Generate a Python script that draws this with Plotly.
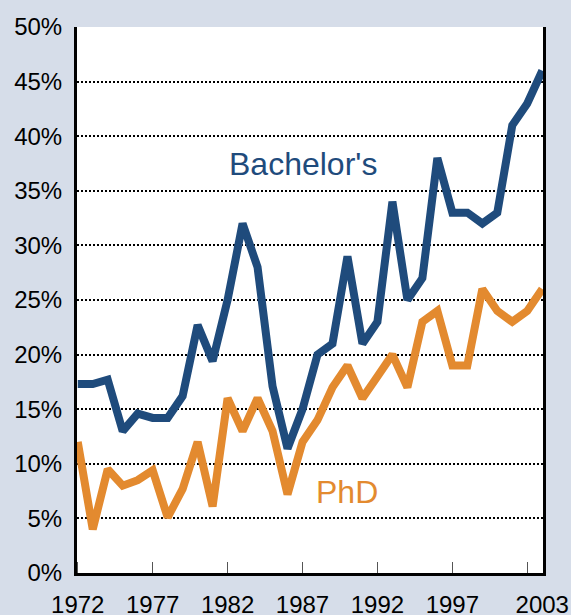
import plotly.graph_objects as go

years = list(range(1972, 2004))
bachelors = [17.3, 17.3, 17.7, 13.0, 14.6, 14.2, 14.2, 16.2, 22.7, 19.4,
             25.0, 32.0, 28.0, 17.1, 11.4, 15.0, 20.0, 21.0, 29.0, 21.0,
             23.0, 34.0, 25.0, 27.0, 38.0, 33.0, 33.0, 32.0, 33.0, 41.0,
             43.0, 46.0]
phd = [12.0, 4.0, 9.5, 8.0, 8.5, 9.4, 5.1, 7.7, 12.0, 6.1,
       16.0, 13.0, 16.0, 13.0, 7.2, 12.0, 14.0, 17.0, 19.0, 16.0,
       18.0, 20.0, 17.0, 23.0, 24.0, 19.0, 19.0, 26.0, 24.0, 23.0,
       24.0, 26.0]

tick_years = [1972, 1977, 1982, 1987, 1992, 1997, 2003]
y_ticks = list(range(0, 51, 5))

blue = '#1F4B7C'
orange = '#E38A2F'
font_name = 'Liberation Sans, Arial, sans-serif'

fig = go.Figure()

fig.add_trace(go.Scatter(
    x=years, y=bachelors, mode='lines',
    line=dict(color=blue, width=8), name="Bachelor's",
    hoverinfo='skip'
))
fig.add_trace(go.Scatter(
    x=years, y=phd, mode='lines',
    line=dict(color=orange, width=8), name='PhD',
    hoverinfo='skip'
))

# series labels inside the plot
fig.add_annotation(x=1987, y=37.5, xref='x', yref='y', text="Bachelor's",
                   showarrow=False, font=dict(color=blue, size=32, family=font_name))
fig.add_annotation(x=1990.0, y=7.4, xref='x', yref='y', text='PhD',
                   showarrow=False, font=dict(color=orange, size=32, family=font_name))

fig.update_layout(
    width=571, height=615,
    paper_bgcolor='#D6DDE9',
    plot_bgcolor='white',
    showlegend=False,
    margin=dict(l=77, r=28, t=27, b=42),
    font=dict(family=font_name, color='black', size=24),
    xaxis=dict(
        range=[1971.95, 2003.05],
        tickvals=tick_years,
        ticktext=[str(y) for y in tick_years],
        ticks='', ticklen=0,
        tickfont=dict(size=24),
        ticklabelstandoff=8,
        automargin=False,
        showgrid=False, zeroline=False,
        showline=True, linecolor='black', linewidth=3,
        minor=dict(tick0=1972, dtick=5, ticks='inside', ticklen=11,
                   tickcolor='#555555', tickwidth=1, showgrid=False),
    ),
    yaxis=dict(
        range=[0, 50],
        tickvals=y_ticks,
        ticktext=[f'{v}%' for v in y_ticks],
        ticks='', tickfont=dict(size=24),
        ticklabelstandoff=7,
        automargin=False,
        showgrid=True, gridcolor='black', gridwidth=2, griddash='2px,2px',
        zeroline=False,
        showline=True, mirror=True, linecolor='black', linewidth=3,
    ),
)

fig.write_html('out.html', config={'displayModeBar': False},
               post_script="document.body.style.margin='0';")
